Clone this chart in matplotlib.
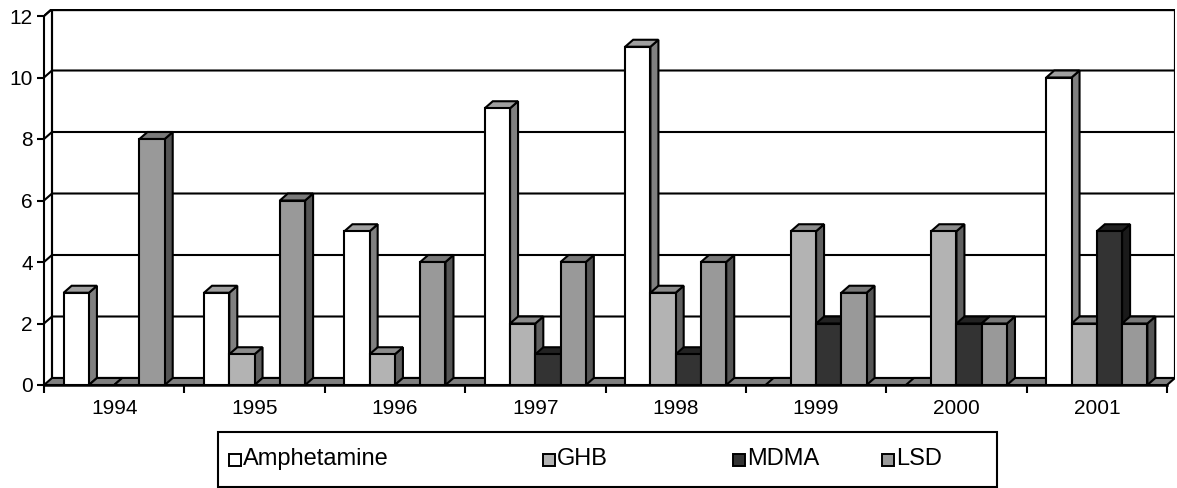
import numpy as np
import matplotlib.pyplot as plt
from matplotlib.patches import Polygon, Rectangle

years = ["1994", "1995", "1996", "1997", "1998", "1999", "2000", "2001"]
series = ["Amphetamine", "GHB", "MDMA", "LSD"]
amphetamine = [3, 3, 5, 9, 11, 0, 0, 10]
ghb = [0, 1, 1, 2, 3, 5, 5, 2]
mdma = [0, 0, 0, 1, 1, 2, 2, 5]
lsd = [8, 6, 4, 4, 4, 3, 2, 2]
values = [amphetamine, ghb, mdma, lsd]

face = ["#ffffff", "#b3b3b3", "#333333", "#999999"]
top = ["#a0a0a0", "#8c8c8c", "#222222", "#7a7a7a"]
side = ["#808080", "#606060", "#1a1a1a", "#555555"]

plt.rcParams['font.family'] = ['Liberation Sans', 'DejaVu Sans']
tick_fs, leg_fs = 15, 17

W, H = 1177, 488
fig = plt.figure(figsize=(W / 100, H / 100), dpi=100)
# axes box in pixels: x 44..1175, y 9..385
ax = fig.add_axes([44 / W, (H - 385) / H, 1131 / W, 376 / H])

n = len(years)
dx = 8 / 140.4      # depth offset, category units
dy = 7 / 30.75      # depth offset, value units
ymax = 12
ax.set_xlim(0, n + dx)
ax.set_ylim(0, ymax + dy)

lw = 1.5
# back wall
ax.add_patch(Rectangle((dx, dy), n, ymax, facecolor="white", edgecolor="black", lw=lw, zorder=1))
# gridlines + left wall diagonals
for v in range(2, ymax + 1, 2):
    ax.plot([0, dx, n + dx], [v, v + dy, v + dy], color="black", lw=lw, zorder=1.5,
            solid_capstyle="butt")
ax.plot([dx, dx], [dy, ymax + dy], color="black", lw=lw, zorder=1.5)
ax.plot([0, dx], [ymax, ymax + dy], color="black", lw=lw, zorder=1.5)
ax.plot([n + dx, n + dx], [dy, ymax + dy], color="black", lw=lw, zorder=1.5)
ax.plot([dx, n + dx], [ymax + dy, ymax + dy], color="black", lw=2.4, zorder=1.5)
# floor
ax.add_patch(Polygon([(0, 0), (n, 0), (n + dx, dy), (dx, dy)], closed=True,
                     facecolor="#808080", edgecolor="black", lw=lw, zorder=2))

off, bw = 0.14, 0.18
z = 3
for i in range(n):
    for j in range(len(series)):
        v = values[j][i]
        x0 = i + off + j * bw
        if v > 0:
            ax.bar(x0, v, width=bw, align="edge", color=face[j], edgecolor="black",
                   lw=lw, zorder=z)
            ax.add_patch(Polygon([(x0 + bw, 0), (x0 + bw + dx, dy), (x0 + bw + dx, v + dy),
                                  (x0 + bw, v)], closed=True, facecolor=side[j],
                                 edgecolor="black", lw=lw, zorder=z - 0.5))
        ax.add_patch(Polygon([(x0, v), (x0 + bw, v), (x0 + bw + dx, v + dy), (x0 + dx, v + dy)],
                             closed=True, facecolor=top[j] if v > 0 else "#808080",
                             edgecolor="black", lw=lw, zorder=z - 0.5))
        z += 1

for s in ["top", "right"]:
    ax.spines[s].set_visible(False)
ax.spines["left"].set_bounds(0, ymax)
ax.spines["bottom"].set_bounds(0, n)
ax.spines["left"].set_linewidth(lw)
ax.spines["bottom"].set_linewidth(1.8)
ax.spines["left"].set_zorder(100)
ax.spines["bottom"].set_zorder(100)

ax.set_yticks(range(0, ymax + 1, 2))
ax.tick_params(axis="y", length=5, width=lw, pad=3, labelsize=tick_fs)
ax.set_xticks(range(n + 1))
ax.set_xticklabels([])
ax.tick_params(axis="x", which="major", length=6, width=lw)
ax.set_xticks(np.arange(n) + 0.5, minor=True)
ax.set_xticklabels(years, minor=True)
ax.tick_params(axis="x", which="minor", length=0, pad=10, labelsize=tick_fs)

# legend box
def fx(px):
    return px / W

def fy(py):
    return (H - py) / H

fig.patches.append(Rectangle((fx(218), fy(487)), fx(997) - fx(218), fy(432) - fy(487),
                             transform=fig.transFigure, facecolor="white",
                             edgecolor="black", lw=lw))
key_x = [229, 543, 733, 882]
for j, name in enumerate(series):
    fig.patches.append(Rectangle((fx(key_x[j]), fy(466)), 12 / W, 12 / H,
                                 transform=fig.transFigure, facecolor=face[j],
                                 edgecolor="black", lw=1.4))
    fig.text(fx(key_x[j] + 14), fy(459), name, fontsize=leg_fs, va="center", ha="left")

fig.savefig("out.png", dpi=100)
